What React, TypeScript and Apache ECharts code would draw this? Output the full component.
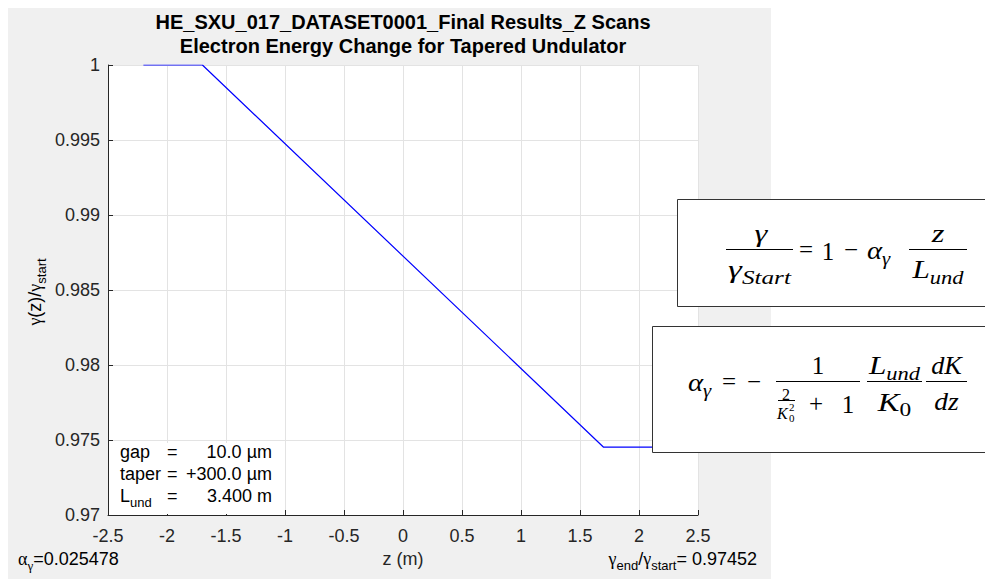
import React, { useEffect, useRef } from "react";
import * as echarts from "echarts";

// ---------- data ----------
const zPositions = [-2.2, -1.7, 1.7, 2.2];
const gammaRatio = [1, 1, 0.97452, 0.97452];

const X_MIN = -2.5;
const X_MAX = 2.5;
const X_STEP = 0.5;
const Y_MIN = 0.97;
const Y_MAX = 1;
const Y_STEP = 0.005;

const titleLines = [
  "HE_SXU_017_DATASET0001_Final Results_Z Scans",
  "Electron Energy Change for Tapered Undulator",
];
const xAxisName = "z (m)";
const paramNames = ["{n|gap}", "{n|taper}", "{n|L}{s|und}"];
const paramValues = ["10.0 µm", "+300.0 µm", "3.400 m"];
const alphaGamma = "0.025478";
const endRatio = "0.97452";

// ---------- styles ----------
const SANS = '"Liberation Sans", Arial, Helvetica, sans-serif';
const SERIF = '"Liberation Serif", "DejaVu Serif", serif';
const AX = "#262626";

const sansRich = (color: string) => ({
  n: { fontFamily: SANS, fontSize: 18, color, verticalAlign: "top", lineHeight: 22 },
  g: { fontFamily: SERIF, fontSize: 18, color, verticalAlign: "top", lineHeight: 22 },
  s: { fontFamily: SANS, fontSize: 13, color, verticalAlign: "bottom" },
  gs: { fontFamily: SERIF, fontSize: 13, color, verticalAlign: "bottom" },
});

const mathRich = {
  mi: { fontFamily: SERIF, fontStyle: "italic", fontSize: 25, color: "#000", verticalAlign: "top", lineHeight: 29 },
  mr: { fontFamily: SERIF, fontSize: 25, color: "#000", verticalAlign: "top", lineHeight: 29 },
  ms: { fontFamily: SERIF, fontStyle: "italic", fontSize: 18, color: "#000", verticalAlign: "bottom" },
  msr: { fontFamily: SERIF, fontSize: 18, color: "#000", verticalAlign: "bottom" },
};

function rtext(x: number, y: number, text: string, rich: any, align = "left", extra: any = {}) {
  return {
    type: "text",
    x,
    y: y + 2,
    z: 100,
    ...extra,
    style: { text, rich, align, verticalAlign: "middle" },
  };
}

function mtext(x: number, y: number, text: string, align = "center", sx = 1.25) {
  return rtext(x, y, text, mathRich, align, { scaleX: sx });
}

function ptext(x: number, y: number, text: string, size: number, italic: boolean, align = "center") {
  return {
    type: "text",
    x,
    y,
    z: 100,
    style: {
      text,
      fontFamily: SERIF,
      fontSize: size,
      fontStyle: italic ? "italic" : "normal",
      fill: "#000",
      align,
      verticalAlign: "middle",
    },
  };
}

function bar(x1: number, x2: number, y: number) {
  return {
    type: "line",
    z: 100,
    shape: { x1, y1: y + 0.5, x2, y2: y + 0.5 },
    style: { stroke: "#000", lineWidth: 1 },
  };
}

function box(x: number, y: number, w: number, h: number) {
  return {
    type: "rect",
    z: 99,
    shape: { x: x + 0.5, y: y + 0.5, width: w, height: h },
    style: { fill: "#ffffff", stroke: "#333333", lineWidth: 1 },
  };
}

export default function App() {
  const ref = useRef<HTMLDivElement>(null);

  useEffect(() => {
    if (!ref.current) return;
    const chart = echarts.init(ref.current, undefined, { renderer: "svg" });
    const sr = sansRich(AX);
    const br = sansRich("#000");

    const graphic: any[] = [
      // title
      {
        type: "text", x: 395, y: 14, z: 100,
        style: { text: titleLines[0], fontFamily: SANS, fontWeight: "bold", fontSize: 20, fill: "#000", align: "center", verticalAlign: "middle" },
      },
      {
        type: "text", x: 395, y: 38, z: 100,
        style: { text: titleLines[1], fontFamily: SANS, fontWeight: "bold", fontSize: 20, fill: "#000", align: "center", verticalAlign: "middle" },
      },
      // y axis name (rotated)
      rtext(29, 282, "{g|γ}{n|(z)/}{g|γ}{s|start}", sr, "center", { rotation: Math.PI / 2 }),
      // bottom texts
      rtext(10, 551, "{g|α}{gs|γ}{n|=" + alphaGamma + "}", br, "left"),
      rtext(749, 551, "{g|γ}{s|end}{n|/}{g|γ}{s|start}{n|= " + endRatio + "}", br, "right"),
      // parameter annotation inside plot
      { type: "rect", z: 90, shape: { x: 101, y: 435, width: 173, height: 71 }, style: { fill: "#ffffff" } },
    ];
    const rowY = [444, 466, 488];
    rowY.forEach((yy, i) => {
      graphic.push(rtext(112, yy, paramNames[i], br, "left"));
      graphic.push(rtext(159, yy, "{n|=}", br, "left"));
      graphic.push(rtext(264, yy, "{n|" + paramValues[i] + "}", br, "right"));
    });

    // ---- formula box 1 ----
    graphic.push(box(669, 191, 330, 107));
    graphic.push(bar(718, 785, 241));
    graphic.push(mtext(753, 225, "{mi|γ}", "center", 1.3));
    graphic.push(mtext(751.5, 262, "{mi|γ}{ms|Start}", "center", 1.4));
    graphic.push(ptext(798, 241, "=", 25, false));
    graphic.push(ptext(820, 243, "1", 25, false));
    graphic.push(ptext(843, 241, "−", 25, false));
    graphic.push(mtext(859, 243, "{mi|α}{ms|γ}", "left", 1.15));
    graphic.push(bar(901, 959, 241));
    graphic.push(mtext(930, 225, "{mi|z}", "center", 1.3));
    graphic.push(mtext(930, 262, "{mi|L}{ms|und}", "center", 1.25));

    // ---- formula box 2 ----
    graphic.push(box(644, 318, 350, 126));
    graphic.push(mtext(680, 375, "{mi|α}{ms|γ}", "left", 1.15));
    graphic.push(ptext(721, 373, "=", 25, false));
    graphic.push(ptext(746, 373, "−", 25, false));
    graphic.push(bar(768, 852, 373));
    graphic.push(ptext(810, 357, "1", 25, false));
    graphic.push(ptext(778, 386, "2", 16, false));
    graphic.push(bar(770, 787, 392));
    graphic.push(ptext(769, 405, "K", 16, true, "left"));
    graphic.push(ptext(781, 399, "2", 11, false, "left"));
    graphic.push(ptext(781, 410, "0", 11, false, "left"));
    graphic.push(ptext(808, 395, "+", 25, false));
    graphic.push(ptext(840, 396, "1", 25, false));
    graphic.push(bar(859, 914, 373));
    graphic.push(mtext(886.5, 358, "{mi|L}{ms|und}", "center", 1.25));
    graphic.push(mtext(886.5, 394, "{mi|K}{msr|0}", "center", 1.3));
    graphic.push(bar(918, 959, 373));
    graphic.push(mtext(938.5, 358, "{mi|dK}", "center", 1.05));
    graphic.push(mtext(938.5, 394, "{mi|dz}", "center", 1.1));

    const option: any = {
      animation: false,
      backgroundColor: "transparent",
      grid: {
        left: 100, top: 57, width: 590, height: 450,
        show: true, backgroundColor: "#ffffff", borderWidth: 0,
      },
      xAxis: {
        type: "value", min: X_MIN, max: X_MAX, interval: X_STEP,
        name: xAxisName, nameLocation: "middle", nameGap: 34,
        nameTextStyle: { color: AX, fontSize: 18, fontFamily: SANS },
        axisLine: { show: true, onZero: false, lineStyle: { color: AX, width: 1 } },
        axisTick: { show: true, inside: true, length: 5, lineStyle: { color: AX } },
        axisLabel: { color: AX, fontSize: 18, fontFamily: SANS, margin: 12 },
        splitLine: { show: true, lineStyle: { color: "#e3e3e3", width: 1 } },
      },
      yAxis: {
        type: "value", min: Y_MIN, max: Y_MAX, interval: Y_STEP,
        axisLine: { show: true, onZero: false, lineStyle: { color: AX, width: 1 } },
        axisTick: { show: true, inside: true, length: 5, lineStyle: { color: AX } },
        axisLabel: { color: AX, fontSize: 18, fontFamily: SANS, margin: 8 },
        splitLine: { show: true, lineStyle: { color: "#e3e3e3", width: 1 } },
      },
      series: [
        {
          type: "line",
          data: zPositions.map((z, i) => [z, gammaRatio[i]]),
          symbol: "none",
          showSymbol: false,
          lineStyle: { color: "#0000ff", width: 1.2 },
          z: 2,
        },
      ],
      graphic,
    };
    chart.setOption(option);
    return () => chart.dispose();
  }, []);

  return (
    <div
      ref={ref}
      style={{
        width: 985,
        height: 571,
        background: "linear-gradient(to right, #f0f0f0 0px, #f0f0f0 763px, #ffffff 763px)",
      }}
    />
  );
}
